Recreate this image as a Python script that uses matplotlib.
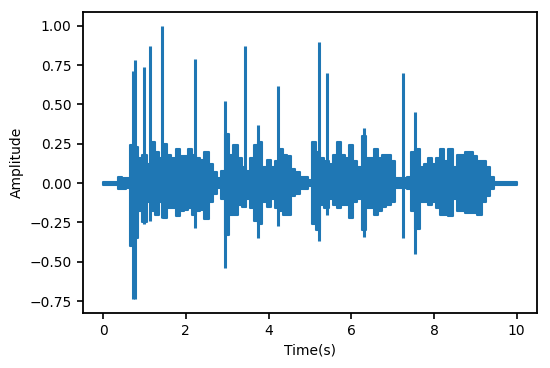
import numpy as np
import matplotlib.pyplot as plt

t_env = np.round(np.arange(0, 101) * 0.1, 1)
env_hi = [0.01, 0.01, 0.01, 0.01, 0.04, 0.03, 0.03, 0.24, 0.23, 0.16,
          0.18, 0.12, 0.26, 0.20, 0.16, 0.25, 0.18, 0.16, 0.22, 0.17,
          0.17, 0.22, 0.18, 0.16, 0.15, 0.20, 0.12, 0.07, 0.03, 0.08,
          0.31, 0.18, 0.24, 0.16, 0.10, 0.08, 0.16, 0.24, 0.26, 0.10,
          0.15, 0.10, 0.14, 0.22, 0.18, 0.17, 0.09, 0.07, 0.04, 0.04,
          0.02, 0.26, 0.20, 0.16, 0.14, 0.12, 0.18, 0.26, 0.18, 0.16,
          0.24, 0.14, 0.10, 0.30, 0.16, 0.16, 0.22, 0.16, 0.18, 0.18,
          0.14, 0.03, 0.03, 0.03, 0.04, 0.20, 0.22, 0.10, 0.12, 0.16,
          0.12, 0.16, 0.22, 0.14, 0.22, 0.10, 0.18, 0.18, 0.20, 0.20,
          0.17, 0.14, 0.14, 0.10, 0.04, 0.01, 0.01, 0.01, 0.01, 0.01,
          0.01]
env_lo = [-0.01, -0.01, -0.01, -0.01, -0.04, -0.04, -0.03, -0.40, -0.35, -0.18,
          -0.25, -0.12, -0.18, -0.20, -0.12, -0.22, -0.16, -0.16, -0.21, -0.18,
          -0.17, -0.16, -0.20, -0.18, -0.17, -0.23, -0.12, -0.07, -0.03, -0.10,
          -0.33, -0.20, -0.20, -0.14, -0.15, -0.10, -0.16, -0.24, -0.26, -0.12,
          -0.15, -0.10, -0.16, -0.18, -0.20, -0.20, -0.08, -0.07, -0.04, -0.04,
          -0.02, -0.26, -0.30, -0.14, -0.16, -0.10, -0.14, -0.16, -0.14, -0.14,
          -0.22, -0.12, -0.10, -0.30, -0.16, -0.16, -0.20, -0.18, -0.15, -0.14,
          -0.12, -0.03, -0.03, -0.03, -0.04, -0.18, -0.29, -0.12, -0.12, -0.14,
          -0.12, -0.16, -0.20, -0.20, -0.21, -0.10, -0.18, -0.18, -0.19, -0.19,
          -0.19, -0.20, -0.12, -0.085, -0.04, -0.01, -0.01, -0.01, -0.01, -0.01,
          -0.01]

# Sharp peaks (time, top, bottom)
spike_t = [0.72, 0.77, 0.99, 1.13, 1.42, 2.23, 2.94, 3.42, 3.75, 4.23,
           5.23, 5.41, 6.31, 7.24, 7.54]
spike_hi = [0.71, 0.78, 0.74, 0.87, 1.00, 0.79, 0.52, 0.87, 0.37, 0.62,
            0.90, 0.70, 0.35, 0.70, 0.45]
spike_lo = [-0.74, -0.74, -0.26, -0.24, -0.22, -0.285, -0.54, -0.15, -0.35, -0.27,
            -0.37, -0.20, -0.34, -0.35, -0.45]

plt.rcParams['font.size'] = 10
plt.rcParams['axes.linewidth'] = 1.3

fig = plt.figure(figsize=(5.5, 3.68), dpi=100)
ax = fig.add_axes([0.150, 0.149, 0.827, 0.818])

col = '#1f77b4'
ax.fill_between(t_env, env_lo, env_hi, step='mid', color=col, lw=1.5, edgecolor=col)
ax.vlines(spike_t, spike_lo, spike_hi, color=col, lw=2.2)

ax.set_xlim(-0.5, 10.5)
ax.set_ylim(-0.827, 1.087)
ax.set_xticks([0, 2, 4, 6, 8, 10])
ax.set_yticks([-0.75, -0.5, -0.25, 0, 0.25, 0.5, 0.75, 1.0])
ax.tick_params(length=4.5, width=1.2)
ax.set_xlabel("Time(s)")
ax.set_ylabel("Amplitude")

fig.savefig("out.png", dpi=100)
